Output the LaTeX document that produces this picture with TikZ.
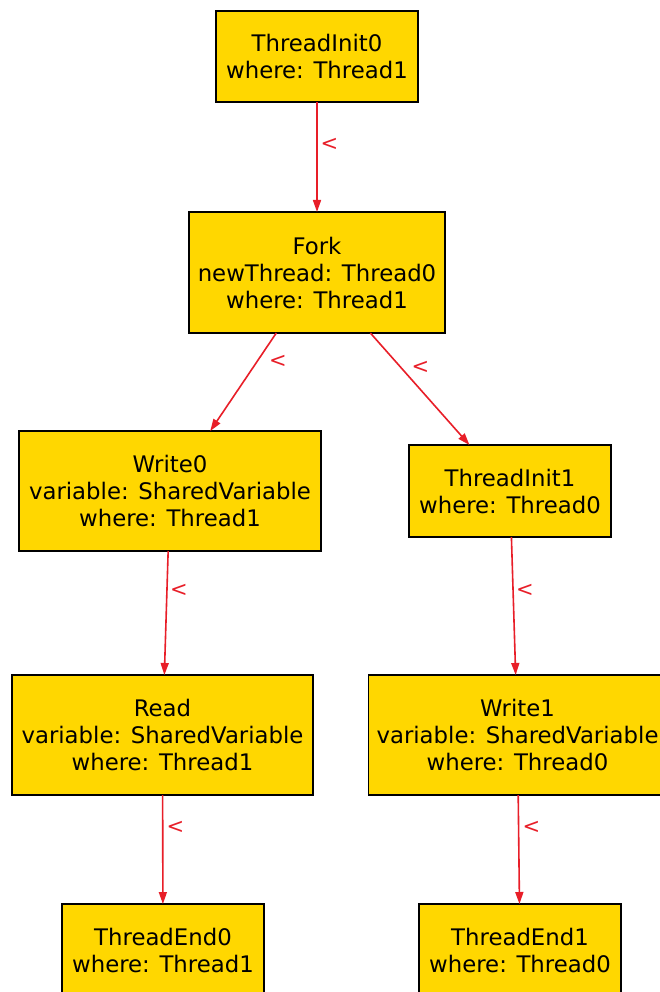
\documentclass[tikz,border=0pt]{standalone}
\usepackage{fontspec}
\setmainfont{DejaVu Sans}
\usetikzlibrary{arrows.meta}
\definecolor{boxfill}{RGB}{255,215,0}
\definecolor{edgered}{RGB}{232,30,40}
\tikzset{
  box/.style={draw=black, line width=1.5pt, fill=boxfill, inner sep=0pt, outer sep=0pt,
    align=center, font=\fontsize{22.8}{27}\selectfont},
  edge/.style={draw=edgered, line width=1.6pt, -{Triangle[length=12pt,width=8pt]}},
  lbl/.style={text=edgered, inner sep=0pt, font=\fontsize{21}{25}\selectfont}
}
\begin{document}
\begin{tikzpicture}[x=1pt,y=-1pt]
\clip (0,0) rectangle (660,992);
\fill[white] (0,0) rectangle (660,992);
\node[box, minimum width=202pt, minimum height=91pt] (ti0) at (317,56.5) {ThreadInit0\\where: Thread1};
\node[box, minimum width=256pt, minimum height=121pt] (fork) at (317,272.5) {Fork\\newThread: Thread0\\where: Thread1};
\node[box, minimum width=302pt, minimum height=120pt] (w0) at (170,491) {Write0\\variable: SharedVariable\\where: Thread1};
\node[box, minimum width=202pt, minimum height=92pt] (ti1) at (510,491) {ThreadInit1\\where: Thread0};
\node[box, minimum width=301pt, minimum height=120pt] (rd) at (162.5,735) {Read\\variable: SharedVariable\\where: Thread1};
\node[box, minimum width=298pt, minimum height=120pt] (w1) at (517.5,735) {Write1\\variable: SharedVariable\\where: Thread0};
\node[box, minimum width=202pt, minimum height=92pt] (te0) at (163,950) {ThreadEnd0\\where: Thread1};
\node[box, minimum width=202pt, minimum height=92pt] (te1) at (520,950) {ThreadEnd1\\where: Thread0};
\draw[edge] (ti0) -- (fork);
\draw[edge] (fork) -- (w0);
\draw[edge] (fork) -- (ti1);
\draw[edge] (w0) -- (rd);
\draw[edge] (ti1) -- (w1);
\draw[edge] (rd) -- (te0);
\draw[edge] (w1) -- (te1);
\node[lbl] (l1) at (329.5,144) {<};
\node[lbl] (l2) at (278,361) {<};
\node[lbl] (l3) at (420.5,367) {<};
\node[lbl] (l4) at (179,590) {<};
\node[lbl] (l5) at (525,590) {<};
\node[lbl] (l6) at (175.5,827) {<};
\node[lbl] (l7) at (531.5,827) {<};
\end{tikzpicture}
\end{document}
